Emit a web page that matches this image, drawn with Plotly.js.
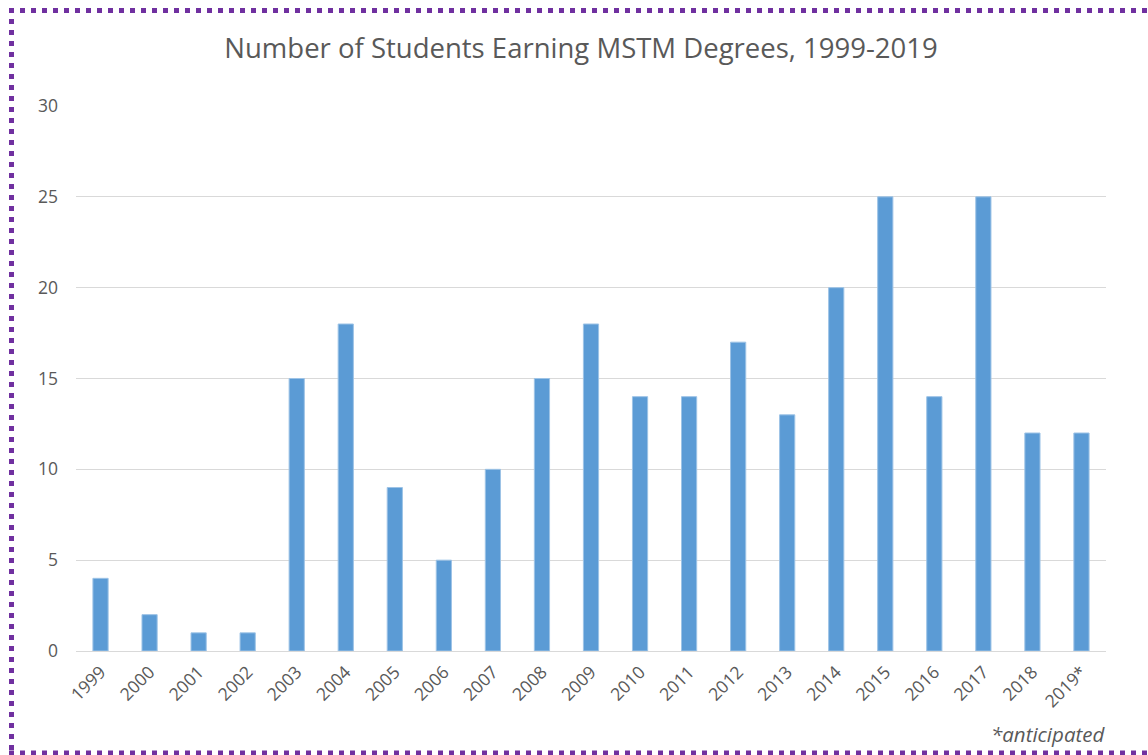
<!DOCTYPE html>
<html>
<head>
<meta charset="utf-8">
<script src="https://cdn.plot.ly/plotly-3.0.1.min.js"></script>
<style>
  html, body { margin: 0; padding: 0; background: #ffffff; }
  #chart { width: 1148px; height: 755px; }
</style>
</head>
<body>
<div id="chart"></div>
<script>
const years = ["1999","2000","2001","2002","2003","2004","2005","2006","2007","2008","2009","2010","2011","2012","2013","2014","2015","2016","2017","2018","2019*"];
const students = [4, 2, 1, 1, 15, 18, 9, 5, 10, 15, 18, 14, 14, 17, 13, 20, 25, 14, 25, 12, 12];
const yTicks = [0, 5, 10, 15, 20, 25, 30];

const W = 1148, H = 755;
const mL = 76, mR = 42, mT = 106, mB = 104;
const pw = W - mL - mR, ph = H - mT - mB;
function px2x(p) { return (p - mL) / pw; }
function px2y(p) { return (H - mB - p) / ph; }

const purple = '#7030a0';
const borderLine = { color: purple, width: 5, dash: '5px,6px' };

const data = [{
  type: 'bar',
  x: years,
  y: students,
  marker: { color: '#5b9bd5', line: { color: '#9dc3e6', width: 1 } },
  hoverinfo: 'x+y'
}];

const layout = {
  width: W, height: H,
  margin: { l: mL, r: mR, t: mT, b: mB },
  paper_bgcolor: '#ffffff',
  plot_bgcolor: '#ffffff',
  font: { family: 'Open Sans, sans-serif', color: '#595959' },
  bargap: 0.69,
  showlegend: false,
  title: {
    text: 'Number of Students Earning MSTM Degrees, 1999-2019',
    font: { size: 27.5, color: '#595959', family: 'Open Sans, sans-serif' },
    x: 581 / W, xanchor: 'center',
    y: 1 - 48 / H, yanchor: 'middle'
  },
  xaxis: {
    type: 'category',
    tickangle: -45,
    tickfont: { size: 17.5, color: '#595959' },
    showgrid: false,
    showline: true,
    linecolor: '#d9d9d9',
    linewidth: 1,
    ticks: '',
    ticklabelstandoff: 3,
    fixedrange: true
  },
  yaxis: {
    range: [0, 30],
    tickvals: yTicks,
    ticktext: yTicks.map(String),
    tickfont: { size: 17.5, color: '#595959' },
    showgrid: true,
    gridcolor: '#d9d9d9',
    gridwidth: 1,
    zeroline: true,
    zerolinecolor: '#d9d9d9',
    showline: false,
    ticks: '',
    ticklabelstandoff: 17,
    fixedrange: true
  },
  annotations: [{
    text: '<i>*anticipated</i>',
    xref: 'paper', yref: 'paper',
    x: px2x(1107), y: px2y(734),
    xanchor: 'right', yanchor: 'middle',
    showarrow: false,
    font: { size: 20.5, color: '#595959', family: 'Open Sans, sans-serif' }
  }],
  shapes: [
    { type: 'line', xref: 'paper', yref: 'paper', x0: px2x(9), x1: px2x(1160), y0: px2y(10.5), y1: px2y(10.5), line: borderLine },
    { type: 'line', xref: 'paper', yref: 'paper', x0: px2x(11.5), x1: px2x(11.5), y0: px2y(8), y1: px2y(756), line: borderLine },
    { type: 'line', xref: 'paper', yref: 'paper', x0: px2x(9), x1: px2x(1160), y0: px2y(753), y1: px2y(753), line: borderLine }
  ]
};

Plotly.newPlot('chart', data, layout, { displayModeBar: false, staticPlot: true });
</script>
</body>
</html>
